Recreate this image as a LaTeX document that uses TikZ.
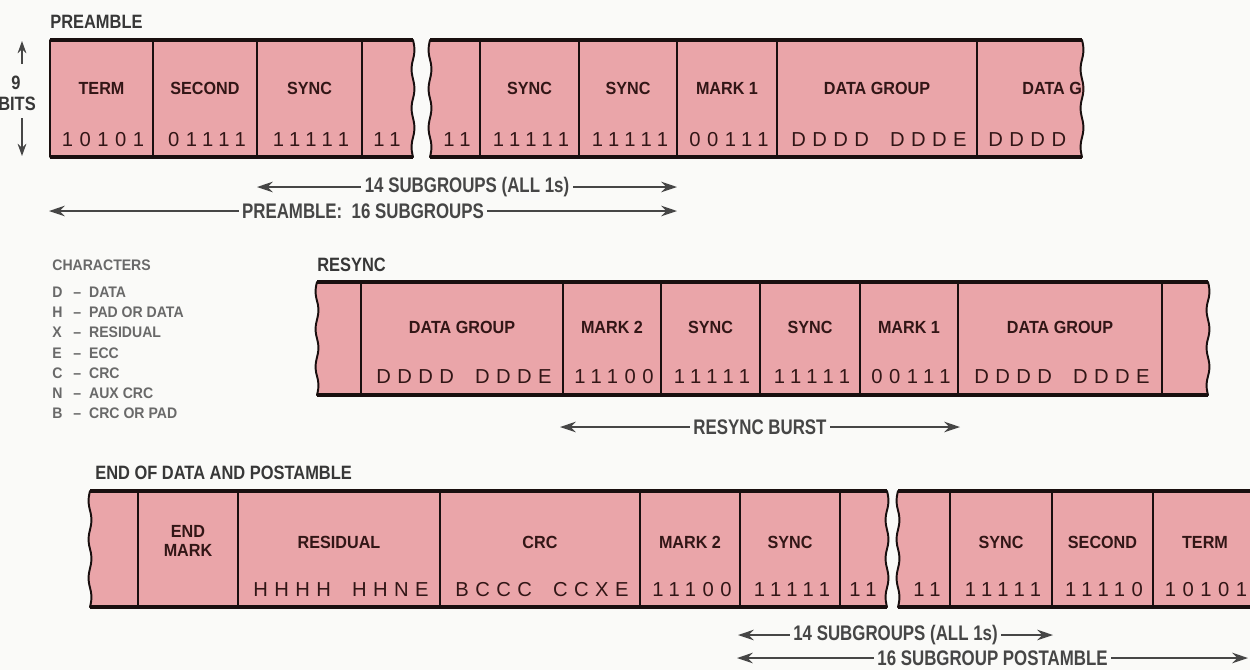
\documentclass[tikz,border=0pt]{standalone}
\usepackage{fontspec}
\setmainfont{Liberation Sans}
\newfontfamily\labfont[FakeStretch=0.92]{Liberation Sans}
\newfontfamily\titfont[FakeStretch=0.85]{Liberation Sans}
\newfontfamily\arrfont[FakeStretch=0.8]{Liberation Sans}
\newfontfamily\bitfont[LetterSpace=32]{Liberation Sans}
\usetikzlibrary{arrows.meta}
\definecolor{bgc}{RGB}{250,250,248}
\definecolor{pinkc}{RGB}{234,165,169}
\definecolor{edgec}{RGB}{25,15,15}
\definecolor{labc}{RGB}{50,22,22}
\definecolor{titc}{RGB}{55,55,55}
\definecolor{arrc}{RGB}{70,70,70}
\definecolor{legc}{RGB}{105,105,105}
\newcommand\gap{\hspace{0.42cm}}
\begin{document}
\begin{tikzpicture}[x=0.02cm,y=-0.02cm,
  wav/.style={insert path={.. controls +(5,{0.5*(#1)}) and +(-5,{-0.5*(#1)}) .. ++(0,#1)}},
  stripbox/.style={fill=pinkc,draw=edgec,line width=1.1pt,line join=round},
  edgeline/.style={draw=edgec,line width=1.9pt},
  divline/.style={draw=edgec,line width=1.1pt},
  lab/.style={font=\labfont\bfseries\fontsize{10}{10.5}\selectfont,text=labc,inner sep=0pt},
  bits/.style={font=\bitfont\fontsize{11.5}{12}\selectfont,text=labc,inner sep=0pt},
  title/.style={font=\titfont\bfseries\fontsize{11}{12}\selectfont,text=titc,inner sep=0pt,anchor=west},
  dimarr/.style={draw=arrc,line width=0.9pt,{Stealth[length=9pt,width=6pt]}-{Stealth[length=9pt,width=6pt]}},
  onearr/.style={draw=arrc,line width=0.9pt,-{Stealth[length=7pt,width=5pt]}},
  dimlab/.style={font=\arrfont\bfseries\fontsize{12}{13}\selectfont,text=arrc,fill=bgc,inner xsep=2pt,inner ysep=1pt},
  leg/.style={font=\labfont\bfseries\fontsize{8.7}{9}\selectfont,text=legc,inner sep=0pt,anchor=west},
]
\useasboundingbox (0,0) rectangle (1250,670);
\fill[bgc] (0,0) rectangle (1250,670);

% ---------------- PREAMBLE ----------------
\node[title] (preT) at (50,22) {PREAMBLE};
\path[stripbox] (50,40) -- (413,40) [wav=39] [wav=39] [wav=39] -- (50,157) -- cycle;
\path[stripbox] (430,40) -- (1082,40) [wav=39] [wav=39] [wav=39] -- (430,157) [wav=-39] [wav=-39] [wav=-39] -- cycle;
\foreach \x in {153,257,362,480,579,677,777,977} \draw[divline] (\x,40) -- (\x,157);
\draw[edgeline] (50,40) -- (413,40) (50,157) -- (413,157);
\draw[edgeline] (430,40) -- (1082,40) (430,157) -- (1082,157);

\node[lab] (p1) at (101.5,88) {TERM};
\node[lab] (p2) at (205,88) {SECOND};
\node[lab] (p3) at (309.5,88) {SYNC};
\node[lab] (p4) at (529.5,88) {SYNC};
\node[lab] (p5) at (628,88) {SYNC};
\node[lab] (p6) at (727,88) {MARK 1};
\node[lab] (p7) at (877,88) {DATA GROUP};
\node[bits] (pb1) at (103,140) {10101};
\node[bits] (pb2) at (207,140) {01111};
\node[bits] (pb3) at (311,140) {11111};
\node[bits] (pb4) at (387,140) {11};
\node[bits] (pb5) at (457,140) {11};
\node[bits] (pb6) at (531,140) {11111};
\node[bits] (pb7) at (630,140) {11111};
\node[bits] (pb8) at (729,140) {00111};
\node[bits] (pb9) at (879,140) {DDDD\gap DDDE};
\begin{scope}
\clip (430,40) -- (1082,40) [wav=39] [wav=39] [wav=39] -- (430,157) -- cycle;
\node[lab,anchor=west] (p8) at (1022,88) {DATA GROUP};
\node[bits,anchor=west] (pb10) at (988,140) {DDDD\gap DDDE};
\end{scope}

% 9 BITS
\node[title,anchor=center] (nine) at (16,83) {9};
\node[title,anchor=center] (bitsl) at (17,104) {BITS};
\coordinate (bu1) at (22,64);
\coordinate (bu2) at (22,41);
\coordinate (bd1) at (22,118);
\coordinate (bd2) at (22,156);
\draw[onearr] (bu1) -- (bu2);
\draw[onearr] (bd1) -- (bd2);

% dimension arrows (preamble)
\coordinate (a14l) at (257,187);
\coordinate (a14r) at (677,187);
\coordinate (a16l) at (49,211);
\coordinate (a16r) at (677,211);
\draw[dimarr] (a14l) -- node[dimlab] (a14t) {14 SUBGROUPS (ALL 1s)} (a14r);
\draw[dimarr] (a16l) -- node[dimlab] (a16t) {PREAMBLE:\ \ 16 SUBGROUPS} (a16r);

% ---------------- LEGEND ----------------
\node[leg] (lgT) at (52,265) {CHARACTERS};
\node[leg] (lg1) at (52,292) {\makebox[0.42cm][l]{D}–\hspace{0.16cm}DATA};
\node[leg] (lg2) at (52,312) {\makebox[0.42cm][l]{H}–\hspace{0.16cm}PAD OR DATA};
\node[leg] (lg3) at (52,332) {\makebox[0.42cm][l]{X}–\hspace{0.16cm}RESIDUAL};
\node[leg] (lg4) at (52,353) {\makebox[0.42cm][l]{E}–\hspace{0.16cm}ECC};
\node[leg] (lg5) at (52,373) {\makebox[0.42cm][l]{C}–\hspace{0.16cm}CRC};
\node[leg] (lg6) at (52,393) {\makebox[0.42cm][l]{N}–\hspace{0.16cm}AUX CRC};
\node[leg] (lg7) at (52,413) {\makebox[0.42cm][l]{B}–\hspace{0.16cm}CRC OR PAD};

% ---------------- RESYNC ----------------
\node[title] (resT) at (317,265) {RESYNC};
\path[stripbox] (317,282) -- (1208,282) [wav=37.667] [wav=37.667] [wav=37.667] -- (317,395) [wav=-37.667] [wav=-37.667] [wav=-37.667] -- cycle;
\foreach \x in {361,563,661,760,860,958,1162} \draw[divline] (\x,282) -- (\x,395);
\draw[edgeline] (317,282) -- (1208,282) (317,395) -- (1208,395);
\node[lab] (r1) at (462,327) {DATA GROUP};
\node[lab] (r2) at (612,327) {MARK 2};
\node[lab] (r3) at (710.5,327) {SYNC};
\node[lab] (r4) at (810,327) {SYNC};
\node[lab] (r5) at (909,327) {MARK 1};
\node[lab] (r6) at (1060,327) {DATA GROUP};
\node[bits] (rb1) at (464,377) {DDDD\gap DDDE};
\node[bits] (rb2) at (614,377) {11100};
\node[bits] (rb3) at (712,377) {11111};
\node[bits] (rb4) at (812,377) {11111};
\node[bits] (rb5) at (911,377) {00111};
\node[bits] (rb6) at (1062,377) {DDDD\gap DDDE};
\coordinate (rbl) at (560,427);
\coordinate (rbr) at (960,427);
\draw[dimarr] (rbl) -- node[dimlab] (rbt) {RESYNC BURST} (rbr);

% ---------------- END OF DATA AND POSTAMBLE ----------------
\node[title] (endT) at (95,473) {END OF DATA AND POSTAMBLE};
\path[stripbox] (90,491) -- (887,491) [wav=38.667] [wav=38.667] [wav=38.667] -- (90,607) [wav=-38.667] [wav=-38.667] [wav=-38.667] -- cycle;
\path[stripbox] (898,491) -- (1262,491) -- (1262,607) -- (898,607) [wav=-38.667] [wav=-38.667] [wav=-38.667] -- cycle;
\foreach \x in {138,238,440,640,740,840,950,1052,1153} \draw[divline] (\x,491) -- (\x,607);
\draw[edgeline] (90,491) -- (887,491) (90,607) -- (887,607);
\draw[edgeline] (898,491) -- (1262,491) (898,607) -- (1262,607);
\node[lab,align=center] (e1) at (188,541) {END\\MARK};
\node[lab] (e2) at (339,542) {RESIDUAL};
\node[lab] (e3) at (540,542) {CRC};
\node[lab] (e4) at (690,542) {MARK 2};
\node[lab] (e5) at (790,542) {SYNC};
\node[lab] (e6) at (1001,542) {SYNC};
\node[lab] (e7) at (1102.5,542) {SECOND};
\node[lab] (e8) at (1205,542) {TERM};
\node[bits] (eb1) at (341,590) {HHHH\gap HHNE};
\node[bits] (eb2) at (542,590) {BCCC\gap CCXE};
\node[bits] (eb3) at (692,590) {11100};
\node[bits] (eb4) at (792,590) {11111};
\node[bits] (eb5) at (863,590) {11};
\node[bits] (eb6) at (927,590) {11};
\node[bits] (eb7) at (1003,590) {11111};
\node[bits] (eb8) at (1104,590) {11110};
\node[bits] (eb9) at (1206,590) {10101};
\coordinate (b14l) at (738,635);
\coordinate (b14r) at (1053,635);
\coordinate (b16l) at (737,658);
\coordinate (b16r) at (1248,658);
\draw[dimarr] (b14l) -- node[dimlab] (b14t) {14 SUBGROUPS (ALL 1s)} (b14r);
\draw[dimarr] (b16l) -- node[dimlab] (b16t) {16 SUBGROUP POSTAMBLE} (b16r);
\end{tikzpicture}
\end{document}
